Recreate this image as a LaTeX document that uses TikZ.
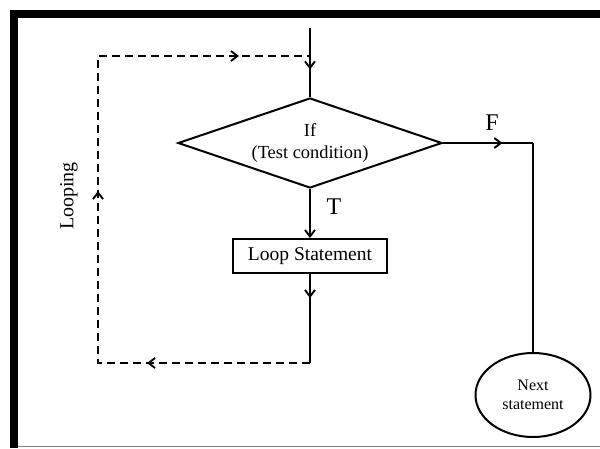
\documentclass[tikz,border=0pt]{standalone}
\usepackage{fontspec}
\setmainfont{Liberation Serif}
\usetikzlibrary{shapes.geometric,arrows.meta,decorations.markings}

\tikzset{
  barb/.tip={Straight Barb[length=6.5pt,width=10pt,line width=1.9pt]},
  line/.style={line width=2pt},
  loopline/.style={line width=1.9pt, dash pattern=on 8pt off 5pt},
  midarrow/.style={postaction={decorate},
    decoration={markings, mark=at position #1 with {\arrow{barb}}}},
  loopmarks/.style={postaction={decorate},
    decoration={markings,
      mark=at position 163pt with {\arrow{barb}},
      mark=at position 384pt with {\arrow{barb}},
      mark=at position 660pt with {\arrow{barb}}}},
  decision/.style={diamond, draw, line width=2pt, minimum width=264pt,
    minimum height=90pt, aspect=2.93, inner sep=0pt, align=center,
    font=\fontsize{18.4}{22}\selectfont},
  process/.style={rectangle, draw, line width=2pt, minimum width=154pt,
    minimum height=34pt, font=\fontsize{19.5}{23}\selectfont},
  terminal/.style={ellipse, draw, line width=2pt, minimum width=115pt,
    minimum height=84pt, inner sep=0pt, align=center,
    font=\fontsize{16}{19}\selectfont},
  branch/.style={font=\fontsize{24}{24}\selectfont, inner sep=0pt},
}

\begin{document}
\begin{tikzpicture}[x=1pt, y=-1pt]
  \useasboundingbox (0,0) rectangle (600,448);

  % frame
  \fill (10,10) rectangle (600,17.5);
  \fill (10,10) rectangle (18,448);
  \draw[gray, line width=1.5pt] (18,446.5) -- (600,446.5);

  % blocks
  \node[decision] (cond) at (310,143) {If\\(Test condition)};
  \node[process] (body) at (310,256) {Loop Statement};
  \node[terminal] (next) at (533,395) {Next\\statement};

  % route points
  \coordinate (entry) at (310,28);
  \coordinate (c1) at (310,363);
  \coordinate (c2) at (98,363);
  \coordinate (c3) at (98,56);
  \coordinate (c4) at (310,56);
  \coordinate (fturn) at (533,143);

  % flow
  \draw[line, midarrow=0.6] (entry) -- (cond.north);
  \draw[line, midarrow=0.66] (cond.east) -- (fturn);
  \draw[line] (fturn) -- (next.north);
  \draw[line, -{barb}] (cond.south) -- (body.north);
  \draw[line, midarrow=0.27] (body.south) -- (c1);
  \draw[loopline, loopmarks] (c1) -- (c2) -- (c3) -- (c4);

  % labels
  \node[branch] (tlab) at (334,206.5) {T};
  \node[branch] (flab) at (492,122.5) {F};
  \node[rotate=90, font=\fontsize{20}{20}\selectfont] (looplab) at (69,196) {Looping};
\end{tikzpicture}
\end{document}
